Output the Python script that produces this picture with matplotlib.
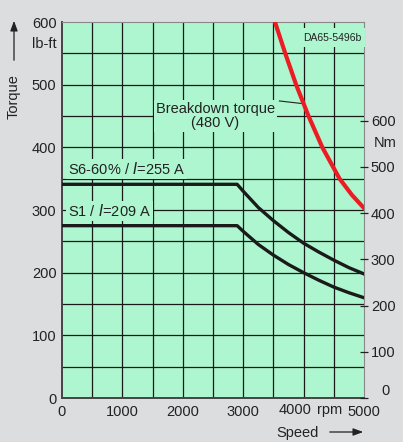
import matplotlib.pyplot as plt
import matplotlib.patches as mpatches
import numpy as np

plt.rcParams['font.family'] = ['Liberation Sans', 'DejaVu Sans']

# --- dados ---
rpm_s = [0, 2900, 3000, 3250, 3500, 3750, 4000, 4250, 4500, 4750, 5000]
s6 = [341, 341, 330, 304, 283, 264, 247, 233, 220, 208, 198]
s1 = [275, 275, 266, 245, 228, 213, 200, 188, 177, 168, 160]

rpm_bd = [3526, 3696, 3876, 4081, 4310, 4595, 4800, 5000]
bd = [600, 550, 500, 450, 400, 350, 324, 303]

lbft_ticks = [0, 100, 200, 300, 400, 500, 600]
nm_ticks = [0, 100, 200, 300, 400, 500, 600]
rpm_ticks = [0, 1000, 2000, 3000, 4000, 5000]
NM_POR_LBFT = 1.3558

bg = '#aef6cf'
cor_txt = '#222222'
fs = 10.5

fig = plt.figure(figsize=(4.03, 4.42), dpi=100, facecolor='#dcdddf')
ax = fig.add_axes([62/403, 44/442, 302/403, 376/442])
ax.set_facecolor(bg)
ax.set_xlim(0, 5000)
ax.set_ylim(0, 600)

# grade
for gx in np.arange(500, 5000, 500):
    ax.axvline(gx, color='#1a1a1a', lw=0.9, zorder=1)
for gy in np.arange(50, 600, 50):
    ax.axhline(gy, color='#1a1a1a', lw=0.9, zorder=1)

# curvas
ax.plot(rpm_s, s6, color='#1a1a1a', lw=2.4, zorder=5)
ax.plot(rpm_s, s1, color='#1a1a1a', lw=2.4, zorder=5)
ax.plot(rpm_bd, bd, color='#ec1c24', lw=3.0, zorder=6, solid_joinstyle='round')

# textos dentro do grafico
box = dict(facecolor=bg, edgecolor='none', pad=1.5)
ax.text(100, 352, 'S6-60% / $\\it{I}$=255 A', fontsize=fs, color=cor_txt,
        ha='left', va='bottom', bbox=box, zorder=3)
ax.text(100, 285, 'S1 / $\\it{I}$=209 A', fontsize=fs, color=cor_txt,
        ha='left', va='bottom', bbox=box, zorder=3)
ax.text(2540, 450, 'Breakdown torque\n(480 V)', fontsize=fs, color=cor_txt,
        ha='center', va='center', linespacing=1.05, bbox=box, zorder=3)
ax.plot([3600, 3960], [474, 470], color=cor_txt, lw=0.8, zorder=4)
ax.text(4470, 575, 'DA65-5496b', fontsize=7.5, color=cor_txt, ha='center', va='center',
        bbox=dict(facecolor=bg, edgecolor='none', pad=3), zorder=3)

# eixos
ax.set_yticks(lbft_ticks)
ax.set_xticks(rpm_ticks)
# o rotulo 4000 vai a mao, um pouco para a esquerda, para caber o "rpm"
ax.set_xticklabels([str(v) if v != 4000 else '' for v in rpm_ticks])
ax.tick_params(axis='both', length=0, labelsize=fs, colors=cor_txt, pad=5)
ax.tick_params(axis='y', pad=4)
for s in ['left', 'bottom']:
    ax.spines[s].set_color('#444444')
    ax.spines[s].set_linewidth(1.4)
for s in ['top', 'right']:
    ax.spines[s].set_color('#888888')
    ax.spines[s].set_linewidth(0.8)

ax2 = ax.twinx()
ax2.set_ylim(0, 600 * NM_POR_LBFT)
ax2.set_yticks(nm_ticks)
ax2.set_yticklabels([str(v) if v != 0 else '' for v in nm_ticks])
ax2.tick_params(axis='y', direction='inout', length=6, width=0.9, labelsize=fs,
                colors=cor_txt, pad=2)
for s in ax2.spines.values():
    s.set_visible(False)

fig.text(295/403, 1 - 410/442, '4000', fontsize=fs, color=cor_txt, ha='center', va='center')
fig.text(330/403, 1 - 410/442, 'rpm', fontsize=fs, color=cor_txt, ha='center', va='center')
fig.text(390/403, 1 - 391/442, '0', fontsize=fs, color=cor_txt, ha='right', va='center')
fig.text(374/403, 1 - 143/442, 'Nm', fontsize=fs, color=cor_txt, ha='left', va='center')
fig.text(57/403, 1 - 44/442, 'lb-ft', fontsize=fs, color=cor_txt, ha='right', va='center')

fig.text(14/403, 1 - 97/442, 'Torque', fontsize=fs, color=cor_txt, rotation=90,
         ha='center', va='center')
fig.patches.append(mpatches.FancyArrowPatch(
    (14/403, 1 - 63/442), (14/403, 1 - 18/442), transform=fig.transFigure,
    arrowstyle='-|>,head_length=6,head_width=2.2', color=cor_txt, lw=0.9))
fig.text(319/403, 1 - 433/442, 'Speed', fontsize=fs, color=cor_txt, ha='right', va='center')
fig.patches.append(mpatches.FancyArrowPatch(
    (327/403, 1 - 432/442), (366/403, 1 - 432/442), transform=fig.transFigure,
    arrowstyle='-|>,head_length=6,head_width=2.2', color=cor_txt, lw=0.9))

plt.savefig('out.png', dpi=100, facecolor=fig.get_facecolor())
